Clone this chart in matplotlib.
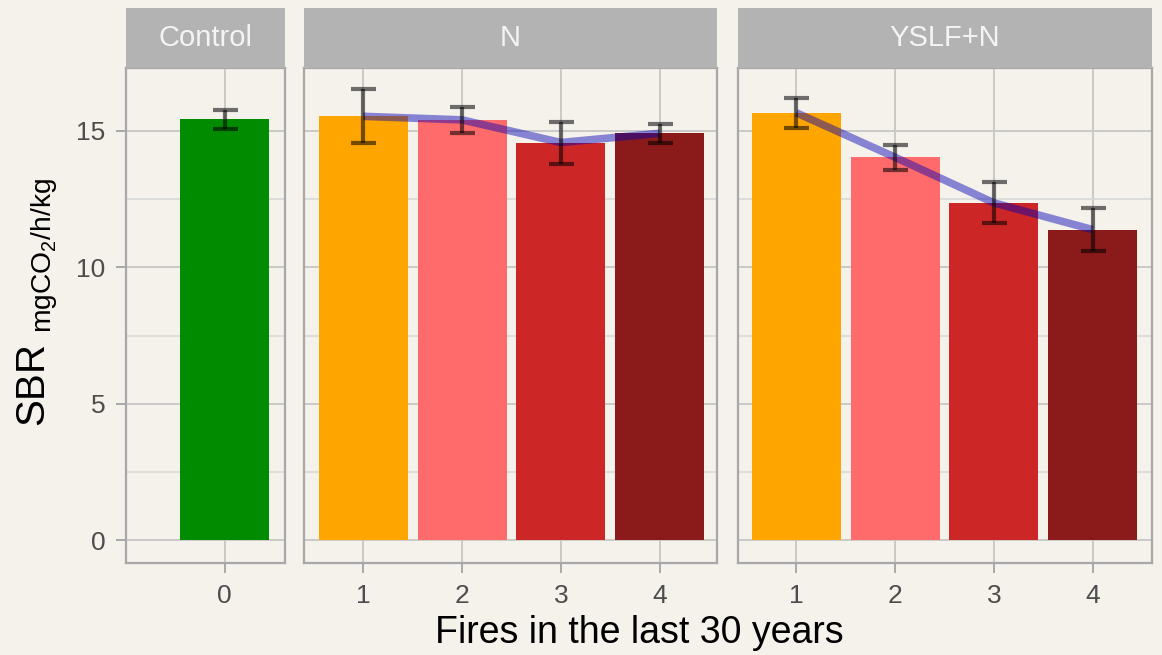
import matplotlib
matplotlib.use('Agg')
from matplotlib import pyplot as plt

plt.rcParams['font.family'] = ['Liberation Sans', 'DejaVu Sans']
plt.rcParams['mathtext.fontset'] = 'custom'
plt.rcParams['mathtext.rm'] = 'Liberation Sans'
plt.rcParams['mathtext.it'] = 'Liberation Sans:italic'

# mean SBR and standard error for each treatment / number of fires
control_fires = [0]
control_mean = [15.42]
control_se = [0.35]

n_fires = [1, 2, 3, 4]
n_mean = [15.53, 15.40, 14.57, 14.91]
n_se = [0.99, 0.47, 0.77, 0.34]

yslf_fires = [1, 2, 3, 4]
yslf_mean = [15.66, 14.03, 12.36, 11.38]
yslf_se = [0.55, 0.46, 0.75, 0.79]

panel_titles = ['Control', 'N', 'YSLF+N']
fire_colors = ['#FFA500', '#FF6A6A', '#CD2626', '#8B1A1A']
control_color = '#008B00'

BG = '#F5F1EB'
W, H = 1162, 655

fig = plt.figure(figsize=(W / 100, H / 100), dpi=100, facecolor=BG)

#パネルの位置(ピクセル)
top, bottom = 68, 563
strip_top = 8
boxes = [(126, 285, (-1.0, 0.61)), (304, 717, (0.40, 4.58)), (738, 1152, (0.41, 4.60))]


def make_panel(left, right, xlim, title, first):
    ax = fig.add_axes([left / W, 1 - bottom / H, (right - left) / W, (bottom - top) / H])
    ax.set_facecolor(BG)
    ax.set_xlim(*xlim)
    ax.set_ylim(-0.83, 17.3)
    ax.set_yticks([0, 5, 10, 15])
    ax.set_yticks([2.5, 7.5, 12.5], minor=True)
    ax.grid(True, which='major', color='#C9C9C9', linewidth=1.4)
    ax.grid(True, which='minor', axis='y', color='#D8D8D8', linewidth=1.2)
    ax.set_axisbelow(True)
    for s in ax.spines.values():
        s.set_color('#A8A8A8')
        s.set_linewidth(1.6)
    ax.tick_params(which='major', length=7, width=1.4, color='#A8A8A8',
                   labelsize=19, labelcolor='#4D4D4D', pad=8)
    ax.tick_params(which='minor', length=0)
    if not first:
        ax.tick_params(axis='y', left=False, labelleft=False)
    # strip
    st = fig.add_axes([left / W, 1 - top / H, (right - left) / W, (top - strip_top) / H])
    st.set_facecolor('#B3B3B3')
    st.set_xticks([])
    st.set_yticks([])
    for s in st.spines.values():
        s.set_visible(False)
    st.text(0.5, 0.5, title, color='#F4F4F4', fontsize=21, ha='center', va='center',
            transform=st.transAxes)
    return ax


def draw_group(ax, x, mean, se, colors, line=True):
    ax.bar(x, mean, width=0.9, color=colors, zorder=2)
    if line:
        ax.plot(x, mean, color='#0000B5', alpha=0.45, linewidth=5.5,
                solid_capstyle='butt', zorder=3)
    ax.errorbar(x, mean, yerr=se, fmt='none', ecolor='black', alpha=0.55,
                elinewidth=3, capsize=9, capthick=3, zorder=4)
    ax.set_xticks(x)


axes = []
for i, (l, r, xl) in enumerate(boxes):
    axes.append(make_panel(l, r, xl, panel_titles[i], i == 0))

draw_group(axes[0], control_fires, control_mean, control_se, [control_color], line=False)
draw_group(axes[1], n_fires, n_mean, n_se, fire_colors)
draw_group(axes[2], yslf_fires, yslf_mean, yslf_se, fire_colors)

fig.text(639 / W, 1 - 633 / H, 'Fires in the last 30 years', fontsize=27,
         ha='center', va='center')
fig.text(38 / W, 1 - 303 / H, r'SBR $_{\mathrm{mgCO_2/h/kg}}$', fontsize=29,
         rotation=90, ha='center', va='center')

fig.savefig('out.png', dpi=100, facecolor=BG)
